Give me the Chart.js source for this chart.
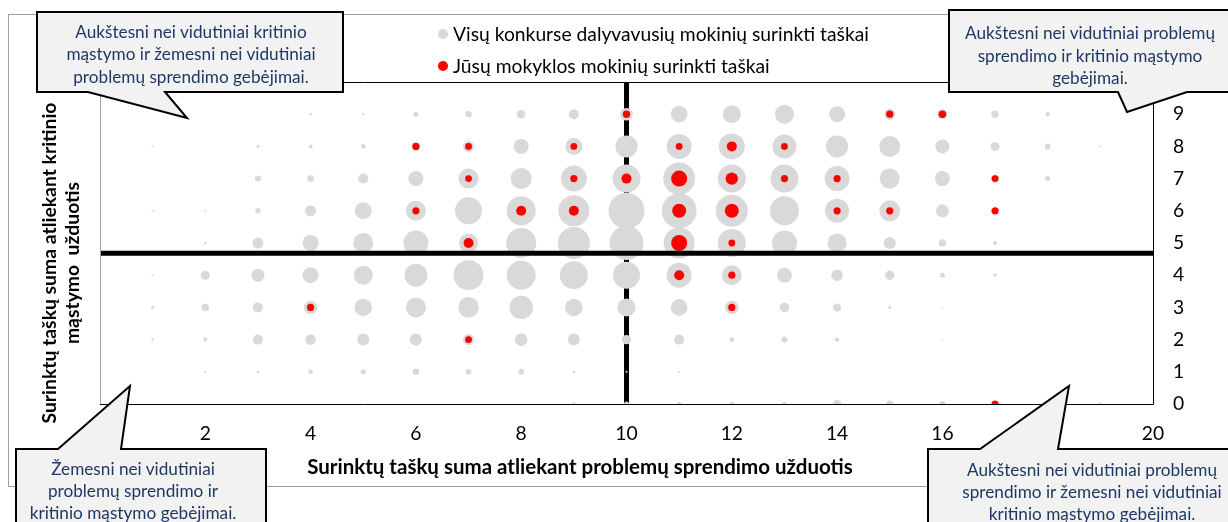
<!DOCTYPE html>
<html><head><meta charset="utf-8">
<script src="https://cdn.jsdelivr.net/npm/chart.js@4"></script>
<style>
html,body{margin:0;padding:0;background:#fff;}
#wrap{position:relative;width:1228px;height:522px;overflow:hidden;background:#fff;font-family:Lato,"Open Sans",sans-serif;}
#outer{position:absolute;left:8px;top:14px;width:1240px;height:473px;border:1px solid #a0a0a0;box-sizing:border-box;}
canvas{position:absolute;left:0;top:0;}
svg{position:absolute;left:0;top:0;}
.txt{position:absolute;white-space:pre;text-align:center;transform:translate(-50%,-50%);}
.dot{position:absolute;border-radius:50%;}
</style></head>
<body><div id="wrap">
<div id="outer"></div>
<canvas id="c" width="1228" height="522"></canvas>
<svg id="shapes" width="1228" height="522"></svg>
</div>
<script>
// ---------- DATA ----------
const xCategories = [1,2,3,4,5,6,7,8,9,10,11,12,13,14,15,16,17,18,19];
const yLevels = [0,1,2,3,4,5,6,7,8,9];
// bubble radii of all participants, one array per y level, indexed by xCategories
const allY0 = [0,0,0,0,0,0,0,0,1.5,2.5,2.3,2.3,2.3,4,3.5,3,3,0,1.5];
const allY1 = [0,1,1.5,2.3,2.5,3.3,2.8,2.8,1.5,1,1,0,0,0,0,0,0,0,0];
const allY2 = [1.3,2,5,5.3,6,6,5.5,6.3,6,4.7,5,2.3,3,2.2,0,0.8,0,0,0];
const allY3 = [1.7,3.7,5,6.7,8.7,10,10.3,11.7,8.7,9,8.3,6.7,4.7,4,1.5,0.8,0,0,0];
const allY4 = [1,4.5,6.5,8,9.5,11.5,15,14.5,14,13.5,12.5,10,7.5,5.8,4.7,2.5,1.7,0,0];
const allY5 = [0,1.5,5.5,8,10,12.5,9.5,15,16,17,15.5,14,12.5,9.5,6,3.7,2,0,0];
const allY6 = [1,1,2.7,5.5,8.5,10,13.5,14.5,15.5,18,17.5,16,14.5,12,10.5,6.5,3,0,0];
const allY7 = [0,0,3,3.3,5,7.5,10,10.5,13,14,16,14,14,12.5,10,7.5,4.2,2.5,0];
const allY8 = [1,0,1.5,2,2.3,4.2,5.5,7.5,8.5,11,12.5,13,12,11,10.5,7,4.5,3,1];
const allY9 = [0,0,0,1.2,1.2,2.5,3.3,4.3,5,6.3,8.3,9,9.5,8,5.5,5,3.7,2.3,0];
// your school's students
const schoolX = [10,15,16, 6,7,9,11,12,13, 7,9,10,11,12,13,14,17, 6,8,9,11,12,14,15,17, 7,11,12, 11,12, 4,12, 7, 17];
const schoolY = [9,9,9, 8,8,8,8,8,8, 7,7,7,7,7,7,7,7, 6,6,6,6,6,6,6,6, 5,5,5, 4,4, 3,3, 2, 0];
const schoolR = [3.7,3.6,3.8, 3.6,3.4,3.4,3.4,5,3.4, 3.4,3.6,5,8,6.2,3.6,3.6,3.4, 3.6,5,5,7,7,3.6,3.6,3.6, 5,8,3.4, 5,3.6, 3.6,3.6, 3.4, 3.6];
const xTickLabels = [2,4,6,8,10,12,14,16,18,20];
const yTickLabels = [0,1,2,3,4,5,6,7,8,9];
const splitX = 10;      // vertical divider
const meanY = 4.68;     // horizontal divider
const legendAll = 'Visų konkurse dalyvavusių mokinių surinkti taškai';
const legendSchool = 'Jūsų mokyklos mokinių surinkti taškai';
const xTitle = 'Surinktų taškų suma atliekant problemų sprendimo užduotis';
const yTitleLines = ['Surinktų taškų suma atliekant kritinio', 'mąstymo  užduotis'];
const calloutTL = ['Aukštesni nei vidutiniai kritinio', 'mąstymo ir žemesni nei vidutiniai', 'problemų sprendimo gebėjimai.'];
const calloutTR = ['Aukštesni nei vidutiniai problemų', 'sprendimo ir kritinio mąstymo', 'gebėjimai.'];
const calloutBL = ['Žemesni nei vidutiniai', 'problemų sprendimo ir', 'kritinio mąstymo gebėjimai.'];
const calloutBR = ['Aukštesni nei vidutiniai problemų', 'sprendimo ir žemesni nei vidutiniai', 'kritinio mąstymo gebėjimai.'];

// ---------- LAYOUT ----------
const FONT = 'Lato, "Open Sans", sans-serif';
const mctx = document.createElement('canvas').getContext('2d');
function fit(text, target, weight) {
  mctx.font = weight + ' 100px ' + FONT;
  return 100 * target / mctx.measureText(text).width;
}
const calloutSize = fit(calloutTL[0], 232, 400);
const legendSize = fit(legendSchool, 317, 400);
const xTitleSize = fit(xTitle, 546, 700);
const yTitleSize = fit(yTitleLines[0], 321, 700);
const tickSize = legendSize;

const wrap = document.getElementById('wrap');
function addText(lines, cx, cy, size, opts) {
  const d = document.createElement('div');
  d.className = 'txt';
  d.textContent = lines.join('\n');
  d.style.left = cx + 'px';
  d.style.top = cy + 'px';
  d.style.fontSize = size + 'px';
  d.style.lineHeight = (opts.lh || size * 1.2) + 'px';
  d.style.color = opts.color || '#000';
  d.style.fontWeight = opts.weight || 400;
  if (opts.rotate) d.style.transform = 'translate(-50%,-50%) rotate(-90deg)';
  wrap.appendChild(d);
  return d;
}

// callout shapes
const svg = document.getElementById('shapes');
const paths = [
  'M37,12 H343 V92 H165 L187,118 L88,92 H37 Z',
  'M949,10 H1240 V92 H1187 L1127,112 L1118,92 H949 Z',
  'M16,449 H58 L130,386 L121,449 H266 V540 H16 Z',
  'M928,449 H980 L1069,386 L1058,449 H1240 V540 H928 Z'
];
paths.forEach(p => {
  const el = document.createElementNS('http://www.w3.org/2000/svg', 'path');
  el.setAttribute('d', p);
  el.setAttribute('fill', '#f2f2f2');
  el.setAttribute('stroke', '#000');
  el.setAttribute('stroke-width', '2');
  svg.appendChild(el);
});
const navy = '#1f3864';
addText(calloutTL, 191, 54.5, calloutSize, {lh: 22.5, color: navy});
addText(calloutTR, 1090, 56, calloutSize, {lh: 22.5, color: navy});
addText(calloutBL, 133, 491, calloutSize, {lh: 22, color: navy});
addText(calloutBR, 1092, 492, calloutSize, {lh: 22, color: navy});

// legend
function addDot(cx, cy, r, color) {
  const d = document.createElement('div');
  d.className = 'dot';
  d.style.left = (cx - r) + 'px'; d.style.top = (cy - r) + 'px';
  d.style.width = (2*r) + 'px'; d.style.height = (2*r) + 'px';
  d.style.background = color;
  wrap.insertBefore(d, svg);
}
addDot(443, 34, 5, '#d9d9d9');
addDot(443, 66, 5, '#ff0000');
[[legendAll, 34], [legendSchool, 66]].forEach(([t, y]) => {
  const d = addText([t], 0, y, legendSize, {});
  d.style.left = '453px'; d.style.transform = 'translate(0,-50%)'; d.style.textAlign = 'left';
});
// axis titles
addText([xTitle], 580, 466, xTitleSize, {weight: 700});
addText(yTitleLines, 60, 263, yTitleSize, {weight: 700, lh: 23, rotate: true});

// ---------- CHART ----------
const allRows = [allY0, allY1, allY2, allY3, allY4, allY5, allY6, allY7, allY8, allY9];
const grayData = [];
allRows.forEach((row, yi) => row.forEach((r, xi) => {
  if (r > 0) grayData.push({x: xCategories[xi], y: yLevels[yi], r: r});
}));
const redData = schoolX.map((x, i) => ({x: x, y: schoolY[i], r: schoolR[i]}));

const framePlugin = {
  id: 'frame',
  afterDatasetsDraw(chart) {
    const {ctx, chartArea: {left, top, right, bottom}} = chart;
    ctx.save();
    ctx.lineWidth = 1;
    ctx.strokeStyle = '#a0a0a0';
    ctx.beginPath(); ctx.moveTo(left + 0.5, top); ctx.lineTo(left + 0.5, bottom); ctx.stroke();
    ctx.strokeStyle = '#000';
    ctx.beginPath();
    ctx.moveTo(left, top + 0.5); ctx.lineTo(right + 0.5, top + 0.5);
    ctx.lineTo(right + 0.5, bottom + 0.5); ctx.lineTo(left, bottom + 0.5);
    ctx.stroke();
    ctx.restore();
  }
};

const tickFont = {family: FONT, size: tickSize};
new Chart(document.getElementById('c'), {
  type: 'bubble',
  data: {datasets: [
    {type: 'scatter', label: 'mean', data: [{x: 0, y: meanY}, {x: 20, y: meanY}], showLine: true,
     borderColor: '#000', borderWidth: 5, pointRadius: 0, order: 0},
    {label: legendSchool, data: redData, backgroundColor: '#ff0000', borderWidth: 0, hoverRadius: 0, order: 1, clip: 0},
    {label: legendAll, data: grayData, backgroundColor: '#d9d9d9', borderWidth: 0, hoverRadius: 0, order: 2, clip: 0},
    {type: 'scatter', label: 'split', data: [{x: splitX, y: 0}, {x: splitX, y: 10}], showLine: true,
     borderColor: '#000', borderWidth: 5, pointRadius: 0, order: 3}
  ]},
  options: {
    responsive: false, animation: false, events: [],
    layout: {padding: {left: 100, top: 82, right: 0, bottom: 0}},
    plugins: {legend: {display: false}, tooltip: {enabled: false}},
    scales: {
      x: {type: 'linear', min: 0, max: 20,
          grid: {display: false, drawTicks: false}, border: {display: false},
          ticks: {stepSize: 2, autoSkip: false, maxRotation: 0, padding: 30 - 0.6 * tickSize, font: tickFont, color: '#000',
                  callback: v => xTickLabels.includes(v) ? String(v) : ''},
          afterFit: s => { s.height = 118; }},
      y: {type: 'linear', position: 'right', min: 0, max: 10,
          grid: {display: false, drawTicks: false}, border: {display: false},
          ticks: {stepSize: 1, autoSkip: false, padding: 20, font: tickFont, color: '#000',
                  callback: v => yTickLabels.includes(v) ? String(v) : ''},
          afterFit: s => { s.width = 75; }}
    }
  },
  plugins: [framePlugin]
});
</script>
</body></html>
